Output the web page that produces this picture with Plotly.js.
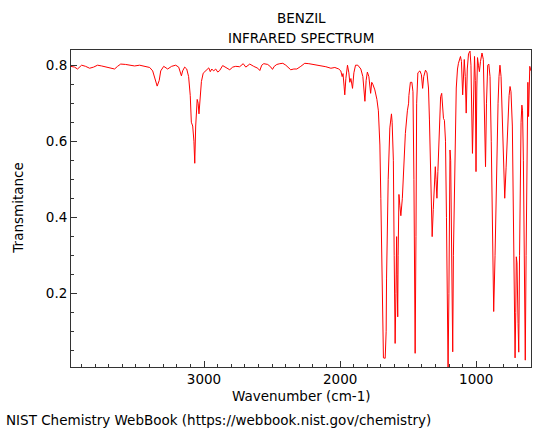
<!DOCTYPE html>
<html>
<head>
<meta charset="utf-8">
<script src="https://cdn.plot.ly/plotly-3.0.1.min.js"></script>
<style>html,body{margin:0;padding:0;background:#fff;}#chart{width:560px;height:439px;}</style>
</head>
<body>
<div id="chart"></div>
<script>
// Wavenumber (cm-1)
const wavenumber = [
3980,3951,3929,3899,3870,3840,3811,3782,3752,3723,3693,3657,3635,3612,3576,3546,3510,3473,3436,3399,
3377,3362,3344,3329,3318,3296,3267,3238,3208,3186,3175,3166,3157,3142,3127,3113,3101,3093,3083,3074,
3068,3061,3050,3043,3037,3029,3019,3006,2987,2965,2954,2943,2929,2914,2899,2885,2863,2840,2811,2789,
2767,2738,2723,2712,2693,2679,2664,2635,2605,2590,2576,2561,2532,2509,2497,2484,2465,2443,2421,2399,
2377,2363,2340,2318,2289,2260,2230,2193,2149,2105,2068,2039,2010,1995,1985,1979,1971,1966,1958,1946,
1936,1929,1921,1909,1899,1887,1870,1848,1833,1818,1809,1800,1789,1776,1768,1760,1745,1730,1719,1708,
1701,1696,1688,1682,1669,1662,1659,1653,1647,1635,1623,1618,1614,1609,1603,1596,1590,1585,1582,1577,
1574,1568,1561,1554,1543,1532,1521,1506,1497,1495,1484,1473,1465,1458,1449,1443,1438,1429,1414,1403,
1394,1386,1373,1362,1351,1344,1337,1329,1324,1316,1307,1301,1296,1289,1282,1270,1262,1254,1247,1241,
1234,1226,1219,1213,1207,1201,1193,1188,1180,1173,1168,1162,1157,1153,1147,1138,1131,1116,1109,1100,
1094,1088,1081,1074,1066,1057,1046,1039,1028,1021,1013,1007,1002,996,991,984,977,969,958,948,
941,932,925,916,908,899,890,881,872,862,851,840,833,826,818,805,798,791,781,770,
759,752,745,735,726,719,715,710,706,701,693,688,682,677,671,665,660,654,647,640,
634,629,625,621,616,611,607,602,598
];
// Transmittance
const transmittance = [
0.797,0.795,0.790,0.800,0.797,0.792,0.795,0.800,0.798,0.796,0.793,0.790,0.797,0.803,0.802,0.800,0.798,0.800,0.797,0.794,
0.785,0.765,0.745,0.760,0.785,0.797,0.790,0.797,0.800,0.795,0.780,0.772,0.785,0.795,0.790,0.770,0.720,0.650,0.640,0.600,
0.542,0.640,0.710,0.700,0.672,0.720,0.757,0.779,0.785,0.793,0.783,0.790,0.785,0.790,0.782,0.786,0.799,0.795,0.788,0.795,
0.797,0.796,0.800,0.804,0.795,0.798,0.803,0.797,0.792,0.786,0.800,0.804,0.802,0.795,0.789,0.797,0.802,0.804,0.805,0.800,
0.792,0.788,0.790,0.790,0.797,0.805,0.804,0.802,0.800,0.796,0.792,0.794,0.790,0.785,0.770,0.778,0.745,0.722,0.765,0.800,
0.780,0.755,0.765,0.739,0.780,0.800,0.800,0.790,0.770,0.705,0.760,0.782,0.770,0.726,0.755,0.750,0.735,0.710,0.680,0.590,
0.450,0.327,0.064,0.030,0.029,0.100,0.240,0.380,0.500,0.635,0.672,0.650,0.595,0.550,0.300,0.068,0.200,0.349,0.250,0.138,
0.300,0.460,0.430,0.404,0.450,0.540,0.620,0.680,0.700,0.720,0.755,0.755,0.730,0.500,0.042,0.350,0.700,0.780,0.785,0.775,
0.739,0.770,0.787,0.780,0.740,0.656,0.550,0.400,0.349,0.420,0.510,0.533,0.500,0.450,0.520,0.650,0.717,0.726,0.700,0.660,
0.655,0.600,0.400,0.150,0.000,0.200,0.577,0.550,0.300,0.046,0.300,0.450,0.546,0.620,0.740,0.790,0.805,0.823,0.810,0.722,
0.760,0.815,0.770,0.674,0.790,0.830,0.837,0.800,0.568,0.750,0.823,0.760,0.520,0.740,0.820,0.800,0.783,0.810,0.832,0.815,
0.700,0.533,0.700,0.800,0.803,0.770,0.600,0.300,0.152,0.300,0.550,0.700,0.770,0.800,0.770,0.620,0.500,0.450,0.530,0.650,
0.720,0.744,0.730,0.640,0.400,0.120,0.030,0.150,0.296,0.280,0.120,0.045,0.300,0.550,0.650,0.695,0.680,0.550,0.250,0.024,
0.300,0.600,0.750,0.755,0.665,0.740,0.797,0.790,0.785
];
const chartTitle = ["BENZIL", "INFRARED SPECTRUM"];
const xTitle = "Wavenumber (cm-1)";
const yTitle = "Transmitance";
const footer = "NIST Chemistry WebBook (https://webbook.nist.gov/chemistry)";
const xTickVals = [1000, 2000, 3000];
const yTickVals = [0.2, 0.4, 0.6, 0.8];

const FONT = "DejaVu Sans, sans-serif";
const FS = 13.5;

const trace = {
  x: wavenumber, y: transmittance, type: "scatter", mode: "lines",
  line: {color: "rgb(255,0,0)", width: 1}, hoverinfo: "skip"
};

const layout = {
  width: 560, height: 439,
  margin: {l: 71, r: 29, t: 50, b: 72},
  paper_bgcolor: "#fff", plot_bgcolor: "#fff",
  font: {family: FONT, size: FS, color: "#000"},
  showlegend: false,
  xaxis: {
    range: [3977, 598], showgrid: false, zeroline: false,
    showline: true, linecolor: "#333", linewidth: 1, mirror: true,
    ticks: "inside", ticklen: 6, tickcolor: "#333", tickwidth: 1,
    tickvals: xTickVals, ticktext: xTickVals.map(String),
    minor: {dtick: 100, ticks: "inside", ticklen: 3, tickcolor: "#333", showgrid: false},
    tickfont: {family: FONT, size: FS, color: "#000"}
  },
  yaxis: {
    range: [0.006, 0.840], showgrid: false, zeroline: false,
    showline: true, linecolor: "#333", linewidth: 1, mirror: true,
    ticks: "inside", ticklen: 6, tickcolor: "#333", tickwidth: 1,
    tickvals: yTickVals, ticktext: yTickVals.map(v => v.toFixed(1)),
    minor: {dtick: 0.05, tick0: 0, ticks: "inside", ticklen: 3, tickcolor: "#333", showgrid: false},
    tickfont: {family: FONT, size: FS, color: "#000"}
  },
  annotations: [
    {text: chartTitle[0], xref: "paper", yref: "paper", x: 0.5, y: 1.101, xanchor: "center", yanchor: "middle", showarrow: false, font: {family: FONT, size: FS, color: "#000"}},
    {text: chartTitle[1], xref: "paper", yref: "paper", x: 0.5, y: 1.038, xanchor: "center", yanchor: "middle", showarrow: false, font: {family: FONT, size: FS, color: "#000"}},
    {text: xTitle, xref: "paper", yref: "paper", x: 0.5, y: -0.0915, xanchor: "center", yanchor: "middle", showarrow: false, font: {family: FONT, size: FS, color: "#000"}},
    {text: yTitle, xref: "paper", yref: "paper", x: -0.117, y: 0.5, xanchor: "center", yanchor: "middle", textangle: -90, showarrow: false, font: {family: FONT, size: FS, color: "#000"}},
    {text: footer, xref: "paper", yref: "paper", x: -0.146, y: -0.166, xanchor: "left", yanchor: "middle", showarrow: false, font: {family: FONT, size: FS, color: "#000"}}
  ]
};

Plotly.newPlot("chart", [trace], layout, {staticPlot: true, displayModeBar: false});
</script>
</body>
</html>
